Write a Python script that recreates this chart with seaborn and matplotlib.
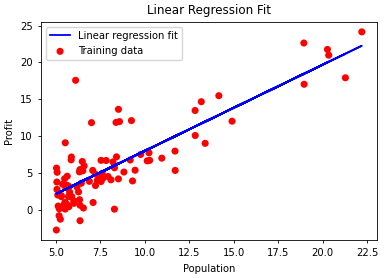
import matplotlib
matplotlib.use("Agg")
import matplotlib.pyplot as plt
import seaborn as sns
import numpy as np
import pandas as pd

population = [6.1101,5.5277,8.5186,7.0032,5.8598,8.3829,7.4764,8.5781,6.4862,5.0546,
5.7107,14.164,5.734,8.4084,5.6407,5.3794,6.3654,5.1301,6.4296,7.0708,
6.1891,20.27,5.4901,6.3261,5.5649,18.945,12.828,10.957,13.176,22.203,
5.2524,6.5894,9.2482,5.8918,8.2111,7.9334,8.0959,5.6063,12.836,6.3534,
5.4069,6.8825,11.708,5.7737,7.8247,7.0931,5.0702,5.8014,11.7,5.5416,
7.5402,5.3077,7.4239,7.6031,6.3328,6.3589,6.2742,5.6397,9.3102,9.4536,
8.8254,5.1793,21.279,14.908,18.959,7.2182,8.2951,10.236,5.4994,20.341,
10.136,7.3345,6.0062,7.2259,5.0269,6.5479,7.5386,5.0365,10.274,5.1077,
5.7292,5.1884,6.3557,9.7687,6.5159,8.5172,9.1802,6.002,5.5204,5.0594,
5.7077,7.6366,5.8707,5.3054,8.2934,13.394,5.4369]
profit = [17.592,9.1302,13.662,11.854,6.8233,11.886,4.3483,12.0,6.5987,3.8166,
3.2522,15.505,3.1551,7.2258,0.71618,3.5129,5.3048,0.56077,3.6518,5.3893,
3.1386,21.767,4.263,5.1875,3.0825,22.638,13.501,7.0467,14.692,24.147,
-1.22,5.9966,12.134,1.8495,6.5426,4.5623,4.1164,3.3928,10.117,5.4974,
0.55657,3.9115,5.3854,2.4406,6.7318,1.0463,5.1337,1.844,8.0043,1.0179,
6.7504,1.8396,4.2885,4.9981,1.4233,-1.4211,2.4756,4.6042,3.9624,5.4141,
5.1694,-0.74279,17.929,12.054,17.054,4.8852,5.7442,7.7754,1.0173,20.992,
6.6799,4.0259,1.2784,3.3411,-2.6807,0.29678,3.8845,5.7014,6.7526,2.0576,
0.47953,0.20421,0.67861,7.5435,5.3436,4.2415,6.7981,0.92695,0.152,2.8214,
1.8451,4.2959,7.2029,1.9869,0.14454,9.0551,0.61705]
theta = [-3.6303, 1.1664]

df = pd.DataFrame({"Population": population, "Profit": profit})
df["Fit"] = theta[0] + theta[1] * df["Population"]

plt.rcParams["font.family"] = ["DejaVu Sans"]
plt.rcParams["font.size"] = 7.2

fig, ax = plt.subplots(figsize=(3.84, 2.78), dpi=100)
fig.subplots_adjust(left=0.107, right=0.982, top=0.921, bottom=0.137)

sns.lineplot(data=df, x="Population", y="Fit", sort=False, estimator=None,
             color="blue", linewidth=1.3, ax=ax, label="Linear regression fit")
sns.scatterplot(data=df, x="Population", y="Profit", color="red", s=26,
                edgecolor="none", linewidth=0, ax=ax, label="Training data")

ax.set_xlabel("Population", fontsize=7.2)
ax.set_ylabel("Profit", fontsize=7.2)
ax.set_title("Linear Regression Fit", fontsize=8.6)
ax.set_xticks([5.0, 7.5, 10.0, 12.5, 15.0, 17.5, 20.0, 22.5])
ax.set_yticks([0, 5, 10, 15, 20, 25])
ax.tick_params(labelsize=7.2, length=2.5, width=0.6)
for s in ax.spines.values():
    s.set_linewidth(0.6)
ax.legend(loc="upper left", fontsize=7.2, frameon=True)

fig.savefig("out.png", dpi=100)
